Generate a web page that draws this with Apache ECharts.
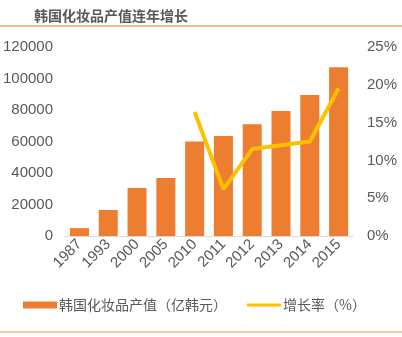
<!DOCTYPE html>
<html><head><meta charset="utf-8">
<script src="https://cdn.jsdelivr.net/npm/echarts@6/dist/echarts.min.js"></script>
<style>html,body{margin:0;padding:0;background:#fff}#c{width:402px;height:337px}</style>
</head><body><div id="c"></div>
<script>
const categories = ['1987','1993','2000','2005','2010','2011','2012','2013','2014','2015'];
const outputValues = [5000, 16500, 30500, 36800, 60000, 63500, 70900, 79400, 89500, 107100];
const growthRates = [null, null, null, null, 16.4, 6.2, 11.5, 12.0, 12.5, 19.5];
const leftTicks = [0, 20000, 40000, 60000, 80000, 100000, 120000];
const rightTicks = [0, 5, 10, 15, 20, 25];

const chart = echarts.init(document.getElementById('c'), null, {renderer:'canvas'});
const font = '"Liberation Sans", "Noto Sans CJK SC", sans-serif';
chart.setOption({
  animation: false,
  textStyle: {fontFamily: font},
  title: {
    text: '韩国化妆品产值连年增长', left: 29, top: 4,
    textStyle: {fontSize: 14, fontWeight: 'bold', color: '#595959', fontFamily: '"Noto Sans CJK SC", sans-serif'}
  },
  graphic: [
    {type:'line', shape:{x1:0,y1:26,x2:402,y2:26}, style:{stroke:'#F4A460', lineWidth:1.5}},
    {type:'line', shape:{x1:0,y1:332,x2:402,y2:332}, style:{stroke:'#F8CBA0', lineWidth:2}}
  ],
  legend: {
    bottom: 20, left: 18, itemGap: 20, itemWidth: 34, itemHeight: 7,
    textStyle: {fontSize: 14, color: '#595959', fontFamily: '"Noto Sans CJK SC", sans-serif', padding:[0,0,0,-3]},
    data: [
      {name:'韩国化妆品产值（亿韩元）', icon:'rect'},
      {name:'增长率（%）', icon:'path://M0,0 M0,2 L34,2 L34,5 L0,5 Z M34,7', itemStyle:{color:'#FFC000'}}
    ]
  },
  grid: {left: 65, right: 49, top: 47, bottom: 101},
  xAxis: {
    type: 'category', data: categories,
    axisLine: {lineStyle: {color: '#D9D9D9'}},
    axisTick: {show: false},
    axisLabel: {rotate: 45, fontSize: 15, color: '#595959', margin: 6, interval: 0}
  },
  yAxis: [
    {type:'value', min: leftTicks[0], max: leftTicks[leftTicks.length-1], interval: 20000,
     splitLine:{show:false}, axisLine:{show:false}, axisTick:{show:false},
     axisLabel:{fontSize: 15, color:'#595959', margin: 12, formatter: v => String(v)}},
    {type:'value', min: rightTicks[0], max: rightTicks[rightTicks.length-1], interval: 5,
     splitLine:{show:false}, axisLine:{show:false}, axisTick:{show:false},
     axisLabel:{fontSize: 15, color:'#595959', margin: 14, formatter: '{value}%'}}
  ],
  series: [
    {name:'韩国化妆品产值（亿韩元）', type:'bar', data: outputValues, barWidth: '66%',
     itemStyle:{color:'#ED7D31'}},
    {name:'增长率（%）', type:'line', yAxisIndex: 1, data: growthRates, symbol:'none',
     lineStyle:{color:'#FFC000', width: 4}, itemStyle:{color:'#FFC000'}, connectNulls:false}
  ]
});
</script></body></html>
